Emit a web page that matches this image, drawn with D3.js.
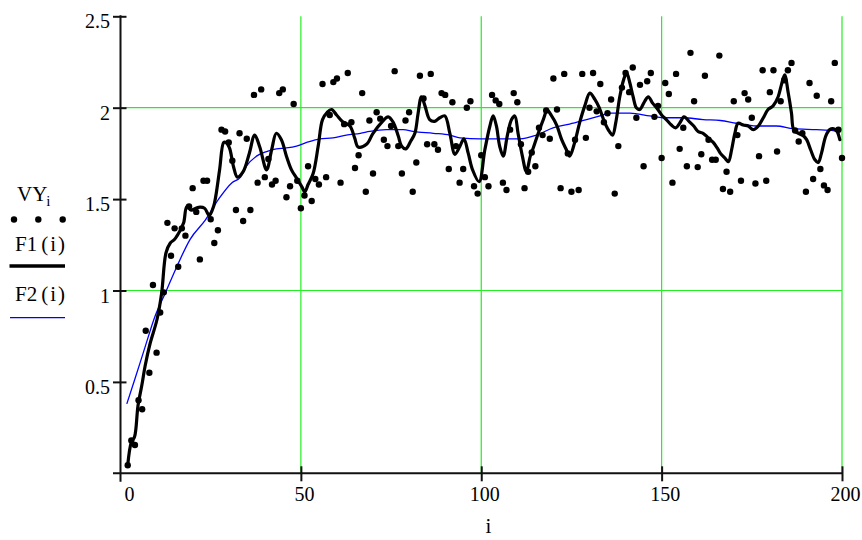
<!DOCTYPE html>
<html>
<head>
<meta charset="utf-8">
<script src="https://cdn.jsdelivr.net/npm/d3@7/dist/d3.min.js"></script>
<style>
  html, body { margin: 0; padding: 0; background: #fff; }
  svg { display: block; }
  text { font-family: "Liberation Serif", "Times New Roman", serif; fill: #000; }
</style>
</head>
<body>
<svg id="chart" width="862" height="540"></svg>
<script>
// ---------------- data ----------------
const vyStart = 2; // first index i of VY
const vyValues = [
  0.044,0.18,0.155,0.40,0.35,0.78,0.55,1.03,0.66,0.88,
  0.99,1.37,1.19,1.34,1.13,1.34,1.30,1.46,1.56,1.43,
  1.17,1.60,1.60,1.39,1.26,1.33,1.88,1.87,1.81,1.71,
  1.44,1.86,1.38,1.83,1.44,2.07,1.59,2.10,1.62,1.72,
  1.58,1.60,2.08,2.10,1.51,1.57,2.02,1.60,1.45,1.52,
  1.68,1.49,1.61,1.58,2.13,1.62,1.96,2.14,2.16,1.59,
  1.91,2.19,1.92,1.67,1.74,2.08,1.54,1.93,1.64,1.975,
  1.94,1.825,1.79,1.90,2.20,1.79,1.64,1.93,1.975,1.54,
  1.70,2.175,2.05,1.80,2.185,1.80,1.77,2.08,2.07,1.665,
  2.03,1.79,1.59,1.665,2.00,2.035,1.57,1.53,1.74,1.62,
  1.57,2.07,2.04,2.02,1.59,1.55,1.88,2.08,2.03,1.80,
  1.56,1.65,1.755,1.68,1.89,1.85,1.985,1.83,2.16,1.99,
  1.56,2.185,1.75,1.54,1.825,1.55,2.185,1.835,2.00,2.19,
  1.98,2.13,1.92,1.97,2.045,1.53,1.79,2.11,2.19,2.085,
  2.22,1.945,2.125,1.68,2.145,2.19,1.95,2.01,1.725,2.135,
  2.075,1.59,2.185,1.775,1.89,1.68,2.30,2.035,1.675,1.745,
  2.175,1.825,1.715,1.715,2.285,1.555,1.65,1.54,2.035,1.85,
  1.60,2.08,2.045,1.945,1.585,1.735,2.205,1.60,2.085,2.205,
  1.76,2.035,2.15,2.205,2.245,1.875,1.815,1.86,1.54,2.135,
  1.61,2.065,1.665,1.575,1.55,2.035,2.245,1.88,1.725
];

// F1(i): wiggly smoother, sampled along i
const f1I = [2.0,3.0,3.9,4.85,5.9,6.85,8.2,10.1,11.4,12.6,13.8,15.0,16.3,17.5,18.4,19.6,21.6,23.3,24.6,25.8,26.4,27.5,28.6,29.2,30.2,31.3,32.4,34.0,35.7,37.2,38.6,40.5,41.9,43.2,44.6,46.0,47.4,48.8,50.2,51.1,52.0,53.4,54.8,56.0,57.3,58.5,59.9,61.5,63.6,64.9,65.9,68.2,70.0,72.4,74.2,75.6,77.0,77.9,79.1,80.4,81.6,82.5,83.4,84.4,85.7,87.1,88.5,89.9,91.3,92.7,94.1,95.2,96.4,97.6,99.4,101.0,102.4,103.3,104.2,105.1,106.1,107.2,108.4,109.3,110.2,111.4,112.5,113.6,114.6,115.8,117.2,118.3,119.5,120.9,122.3,123.6,124.5,125.9,127.3,128.7,130.1,131.5,132.7,134.2,135.5,136.4,137.3,138.4,139.5,140.3,141.2,142.1,143.0,143.9,145.3,146.3,147.5,148.6,150.0,151.3,152.7,153.9,155.0,156.2,157.6,158.9,160.1,161.5,162.9,164.3,165.4,166.3,167.5,168.5,169.4,170.3,171.2,172.6,174.0,175.4,176.8,178.2,179.5,180.9,182.3,183.2,184.1,185.1,186.0,186.6,187.9,189.1,190.2,191.3,192.5,193.4,194.3,195.5,196.6,197.7,198.6,199.4];
const f1V = [0.044,0.17,0.20,0.37,0.48,0.59,0.71,0.84,0.985,1.205,1.26,1.28,1.32,1.37,1.46,1.44,1.455,1.45,1.41,1.46,1.515,1.665,1.81,1.81,1.78,1.68,1.62,1.65,1.75,1.85,1.785,1.66,1.77,1.86,1.825,1.735,1.66,1.615,1.57,1.54,1.58,1.64,1.79,1.935,1.975,1.99,1.96,1.925,1.90,1.835,1.785,1.80,1.86,1.92,1.95,1.92,1.845,1.79,1.775,1.815,1.86,1.97,2.06,2.01,1.935,1.925,1.945,1.955,1.86,1.745,1.79,1.83,1.75,1.66,1.595,1.77,1.90,1.955,1.90,1.79,1.735,1.845,1.935,1.955,1.86,1.735,1.65,1.735,1.79,1.86,1.935,1.985,1.955,1.905,1.825,1.77,1.735,1.81,1.92,2.01,2.08,2.045,2.0,1.92,1.87,1.85,1.92,2.06,2.155,2.19,2.135,2.06,2.0,1.99,2.035,2.06,2.025,2.00,1.96,1.935,1.905,1.89,1.915,1.95,1.925,1.90,1.87,1.86,1.835,1.81,1.78,1.75,1.725,1.705,1.77,1.86,1.915,1.905,1.90,1.88,1.90,1.945,1.99,2.01,2.06,2.125,2.18,2.08,1.97,1.88,1.86,1.85,1.825,1.77,1.715,1.70,1.75,1.845,1.88,1.885,1.87,1.825];

// F2(i): smooth trend, sampled along i
const f2I = [1.75,3.9,6.8,9.6,12.4,15.6,19.3,23.5,27.2,30.9,33.3,34.9,37.7,40.5,43.2,46.0,48.8,51.6,55.3,58.9,62.6,66.5,69.1,73.7,78.4,81.1,86.7,91.3,94.1,99.8,104.2,110.7,115.3,119.9,124.5,129.2,132.9,135.6,141.2,146.7,150.4,156.0,161.5,166.3,170.7,176.3,181.8,186.5,192.9,197.6,199.4];
const f2V = [0.38,0.51,0.69,0.86,0.985,1.13,1.28,1.385,1.50,1.59,1.62,1.68,1.735,1.76,1.775,1.78,1.79,1.81,1.83,1.835,1.85,1.86,1.87,1.88,1.88,1.87,1.86,1.85,1.835,1.83,1.83,1.83,1.85,1.89,1.91,1.935,1.955,1.97,1.97,1.955,1.945,1.945,1.935,1.93,1.915,1.90,1.90,1.885,1.88,1.875,1.86];

const xTicks = [0, 50, 100, 150, 200];
const yTicks = [0.5, 1, 1.5, 2, 2.5];
const xGrid = [50, 100, 150, 200];
const yGrid = [1, 2];
const xLabel = "i";

// ---------------- drawing ----------------
const svg = d3.select("#chart");
svg.append("rect").attr("width", 862).attr("height", 540).attr("fill", "#fff");

const x = d3.scaleLinear().domain([0, 200]).range([120.5, 842]);
const y = d3.scaleLinear().domain([0, 2.5]).range([473.3, 16.3]);

// grid
const gridColor = "#22ee22";
const grid = svg.append("g");
grid.selectAll("line.gx").data(xGrid).join("line").attr("class", "gx")
  .attr("stroke", gridColor).attr("stroke-width", 1.2)
  .attr("x1", d => x(d)).attr("x2", d => x(d))
  .attr("y1", y(2.5)).attr("y2", y(0));
grid.selectAll("line.gy").data(yGrid).join("line").attr("class", "gy")
  .attr("stroke", gridColor).attr("stroke-width", 1.2)
  .attr("x1", x(0)).attr("x2", x(200))
  .attr("y1", d => y(d)).attr("y2", d => y(d));

// axes
const axG = svg.append("g").attr("stroke", "#111").attr("stroke-width", 2).attr("fill", "none");
axG.append("line").attr("x1", x(0) - 7.5).attr("x2", x(200) + 1).attr("y1", y(0)).attr("y2", y(0));
axG.append("line").attr("x1", x(0)).attr("x2", x(0)).attr("y1", y(2.5) - 1).attr("y2", y(0) + 8.5);

const xAxis = svg.append("g").attr("transform", `translate(0,${y(0)})`)
  .call(d3.axisBottom(x).tickValues(xTicks).tickSizeInner(8).tickSizeOuter(0).tickFormat(d3.format("d")));
xAxis.select(".domain").remove();
xAxis.selectAll(".tick line").attr("y1", -7).attr("y2", 8).attr("stroke", "#111").attr("stroke-width", 2)
  .filter(d => d === 0).remove();
xAxis.selectAll(".tick text")
  .attr("font-family", "Liberation Serif, serif").attr("font-size", 20).attr("fill", "#000")
  .attr("y", 28).attr("dy", 0)
  .attr("x", d => d === 0 ? 8.5 : 3);

const yAxis = svg.append("g").attr("transform", `translate(${x(0)},0)`)
  .call(d3.axisLeft(y).tickValues(yTicks).tickSizeInner(7).tickSizeOuter(0).tickFormat(d => String(d)));
yAxis.select(".domain").remove();
yAxis.selectAll(".tick line").attr("x1", -7.5).attr("x2", 6).attr("stroke", "#111").attr("stroke-width", 2);
yAxis.selectAll(".tick text")
  .attr("font-family", "Liberation Serif, serif").attr("font-size", 20).attr("fill", "#000")
  .attr("x", -10.5).attr("dy", 0).attr("y", 11.5);

// x label
svg.append("text").attr("x", x(102)).attr("y", 533).attr("text-anchor", "middle")
  .attr("font-size", 21).text(xLabel);

// F2 blue
const f2Data = f2I.map((d, k) => [d, f2V[k]]);
svg.append("path").datum(f2Data)
  .attr("fill", "none").attr("stroke", "#0000ff").attr("stroke-width", 1.3)
  .attr("d", d3.line().x(d => x(d[0])).y(d => y(d[1])).curve(d3.curveMonotoneX));

// F1 black thick
const f1Data = f1I.map((d, k) => [d, f1V[k]]);
svg.append("path").datum(f1Data)
  .attr("fill", "none").attr("stroke", "#000").attr("stroke-width", 3.2)
  .attr("stroke-linejoin", "round").attr("stroke-linecap", "round")
  .attr("d", d3.line().x(d => x(d[0])).y(d => y(d[1])).curve(d3.curveCatmullRom.alpha(0.5)));

// VY points
const vyData = vyValues.map((v, k) => [vyStart + k, v]);
svg.append("g").selectAll("circle").data(vyData).join("circle")
  .attr("cx", d => x(d[0])).attr("cy", d => y(d[1])).attr("r", 3.2).attr("fill", "#000");

// legend
const lg = svg.append("g");
const vyT = lg.append("text").attr("x", 17).attr("y", 201).attr("font-size", 21);
vyT.append("tspan").text("VY");
vyT.append("tspan").attr("font-size", 15).attr("dy", 5).attr("dx", -1).text("i");
lg.selectAll("circle").data([14, 38.3, 62.7]).join("circle")
  .attr("cx", d => d).attr("cy", 219.5).attr("r", 3.2).attr("fill", "#000");

function fnLabel(name, yy) {
  const t = lg.append("text").attr("x", 15).attr("y", yy).attr("font-size", 21);
  t.append("tspan").text(name);
  t.append("tspan").attr("dx", 4).text("(");
  t.append("tspan").attr("dx", 2).text("i");
  t.append("tspan").attr("dx", 2).text(")");
}
fnLabel("F1", 251);
lg.append("line").attr("x1", 9.5).attr("x2", 65).attr("y1", 266).attr("y2", 266)
  .attr("stroke", "#000").attr("stroke-width", 3.3);
fnLabel("F2", 301);
lg.append("line").attr("x1", 10).attr("x2", 65).attr("y1", 317.7).attr("y2", 317.7)
  .attr("stroke", "#0000ff").attr("stroke-width", 1.3);
</script>
</body>
</html>
